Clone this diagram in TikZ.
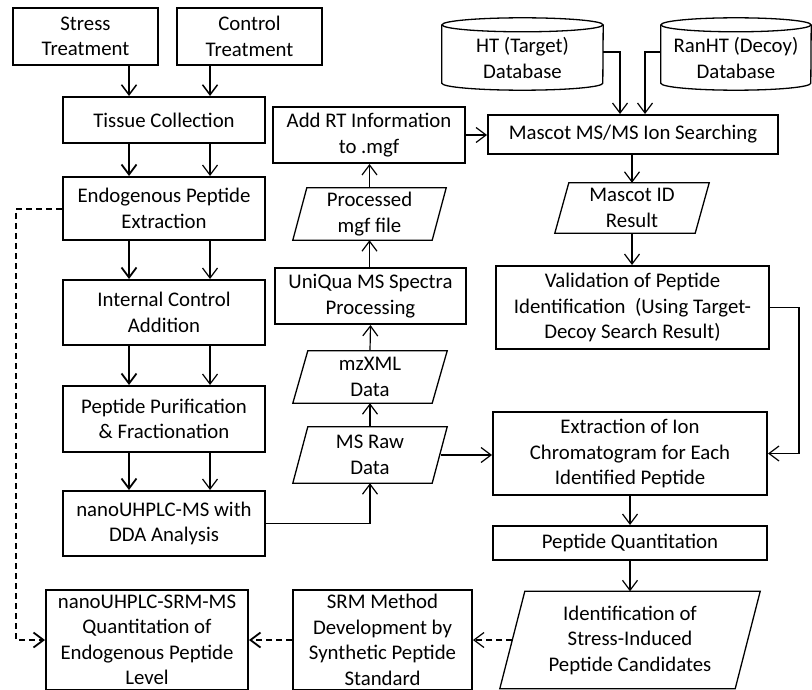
\documentclass[tikz,border=0pt]{standalone}
\usepackage{fontspec}
\setmainfont{Carlito}
\usetikzlibrary{arrows.meta,calc}
\tikzset{
  txt/.style={align=center,inner sep=0pt,font=\fontsize{20.8}{25.5}\selectfont},
  box/.style={txt,draw,line width=2pt},
  hid/.style={txt,draw=none},
  arr/.style={-{Straight Barb[length=10pt,width=15pt]}},
  thinarr/.style={arr,line width=1.2pt},
  thickarr/.style={arr,line width=1.8pt},
  dsh/.style={dash pattern=on 6pt off 4pt},
  para/.style={line width=1.3pt},
}
\newcommand\drawpara[2]{%
  \draw[para] (#1.south west) -- ($(#1.north west)+(#2,0pt)$) -- (#1.north east)
    -- ($(#1.south east)+(-#2,0pt)$) -- cycle;}
\newcommand\drawcyl[3]{% name, half width, ry ; shape drawn 4pt above node box
  \draw[para] ($(#1.north west)+(0pt,4pt-#3)$) -- ($(#1.south west)+(0pt,4pt+#3)$)
    arc[start angle=180,end angle=360,x radius=#2,y radius=#3]
    -- ($(#1.north east)+(0pt,4pt-#3)$);
  \draw[para] ($(#1.north)+(0pt,4pt-#3)$) ellipse[x radius=#2,y radius=#3];}
\begin{document}
\begin{tikzpicture}[x=1pt,y=1pt]
\useasboundingbox (0,0) rectangle (812,-690);
% left column
\node[box,minimum width=145pt,minimum height=57pt] (stress) at (85.5,-36.5) {Stress\\Treatment};
\node[box,minimum width=145pt,minimum height=57pt] (control) at (249.5,-36.5) {Control\\Treatment};
\node[box,minimum width=202pt,minimum height=46pt] (tissue) at (164,-120) {Tissue Collection};
\node[box,minimum width=202pt,minimum height=63pt] (extr) at (164,-208.5) {Endogenous Peptide\\Extraction};
\node[box,minimum width=202pt,minimum height=65pt] (ictrl) at (164,-312.5) {Internal Control\\Addition};
\node[box,minimum width=202pt,minimum height=66pt] (purif) at (164,-419) {Peptide Purification\\\& Fractionation};
\node[box,minimum width=202pt,minimum height=65pt] (dda) at (164,-523.5) {nanoUHPLC-MS with\\DDA Analysis};
\node[box,minimum width=202pt,minimum height=100pt] (srmq) at (147,-640) {nanoUHPLC-SRM-MS\\Quantitation of\\Endogenous Peptide\\Level};
\node[box,minimum width=179pt,minimum height=100pt] (srmdev) at (382.5,-640) {SRM Method\\Development by\\Synthetic Peptide\\Standard};
% middle column
\node[box,minimum width=192pt,minimum height=56pt] (addrt) at (369,-135) {Add RT Information\\to .mgf};
\node[hid,minimum width=153pt,minimum height=52pt] (proc) at (369.5,-214) {Processed\\mgf file};
\node[box,minimum width=191pt,minimum height=56pt] (uniqua) at (370.5,-296) {UniQua MS Spectra\\Processing};
\node[hid,minimum width=154pt,minimum height=52pt] (mzxml) at (370,-377) {mzXML\\Data};
\node[hid,minimum width=154pt,minimum height=56pt] (msraw) at (370,-455) {MS Raw\\Data};
\drawpara{proc}{14pt}
\drawpara{mzxml}{15pt}
\drawpara{msraw}{15pt}
% right column
\node[hid,minimum width=161pt,minimum height=72pt] (ht) at (522.5,-58) {HT (Target)\\Database};
\node[hid,minimum width=150pt,minimum height=72pt] (ranht) at (736,-58) {RanHT (Decoy)\\Database};
\drawcyl{ht}{80.5pt}{7pt}
\drawcyl{ranht}{75pt}{7pt}
\node[box,minimum width=290pt,minimum height=39pt] (mascot) at (633,-134.5) {Mascot MS/MS Ion Searching};
\node[hid,minimum width=154pt,minimum height=50pt] (mid) at (632,-208) {Mascot ID\\Result};
\drawpara{mid}{14pt}
\node[box,minimum width=273pt,minimum height=83pt] (valid) at (632.5,-307.5) {Validation of Peptide\\Identification\ \ (Using Target-\\Decoy Search Result)};
\node[box,minimum width=274pt,minimum height=83pt] (xic) at (630,-453.5) {Extraction of Ion\\Chromatogram for Each\\Identified Peptide};
\node[box,minimum width=274pt,minimum height=34pt] (quant) at (630,-543) {Peptide Quantitation};
\node[hid,minimum width=260pt,minimum height=97pt] (ident) at (630,-640) {Identification of\\Stress-Induced\\Peptide Candidates};
\drawpara{ident}{25pt}
\coordinate (identw) at ($(ident.west)+(12.5pt,0pt)$);
% left column arrows
\draw[arr,line width=1.5pt] (stress.south -| 129,0) -- (tissue.north -| 129,0);
\draw[arr,line width=1.5pt] (control.south -| 210,0) -- (tissue.north -| 210,0);
\draw[thickarr] (tissue.south -| 129,0) -- (extr.north -| 129,0);
\draw[thinarr] (tissue.south -| 210,0) -- (extr.north -| 210,0);
\draw[thickarr] (extr.south -| 129,0) -- (ictrl.north -| 129,0);
\draw[thinarr] (extr.south -| 210,0) -- (ictrl.north -| 210,0);
\draw[thickarr] (ictrl.south -| 129,0) -- (purif.north -| 129,0);
\draw[thinarr] (ictrl.south -| 210,0) -- (purif.north -| 210,0);
\draw[thickarr] (purif.south -| 129,0) -- (dda.north -| 129,0);
\draw[thinarr] (purif.south -| 210,0) -- (dda.north -| 210,0);
% dashed
\coordinate (dl) at (16,-209);
\draw[thickarr,dsh] (extr.west |- dl) -- (dl) |- (srmq.west);
\draw[thickarr,dsh] (srmdev.west) -- (srmq.east);
\draw[thinarr,dsh] (identw) -- (srmdev.east);
% middle arrows
\coordinate (ddac) at (370,-523.5);
\draw[thinarr] (dda.east) -- (ddac) -- (msraw.south);
\draw[thinarr] (msraw.north) -- (mzxml.south);
\draw[thinarr] (mzxml.north) -- (uniqua.south);
\draw[thinarr] (uniqua.north -| proc.north) -- (proc.south);
\draw[thinarr] (proc.north) -- (addrt.south -| proc.north);
\draw[thinarr] (addrt.east) -- (mascot.west |- addrt.east);
\draw[thinarr] ($(msraw.east)+(-6pt,0pt)$) -- (xic.west |- msraw.east);
% right arrows
\coordinate (hta) at (620,-52);
\coordinate (rna) at (645,-52);
\draw[thinarr] (ht.east |- hta) -- (hta) -- (mascot.north -| hta);
\draw[thinarr] (ranht.west |- rna) -- (rna) -- (mascot.north -| rna);
\draw[thinarr] (mascot.south -| mid.north) -- (mid.north);
\draw[thinarr] (mid.south) -- (valid.north -| mid.south);
\coordinate (vr) at (799,-307.5);
\draw[thinarr] (valid.east) -- (vr) |- (xic.east);
\draw[thinarr] (xic.south) -- (quant.north);
\draw[thinarr] (quant.south) -- (ident.north);
\end{tikzpicture}
\end{document}
